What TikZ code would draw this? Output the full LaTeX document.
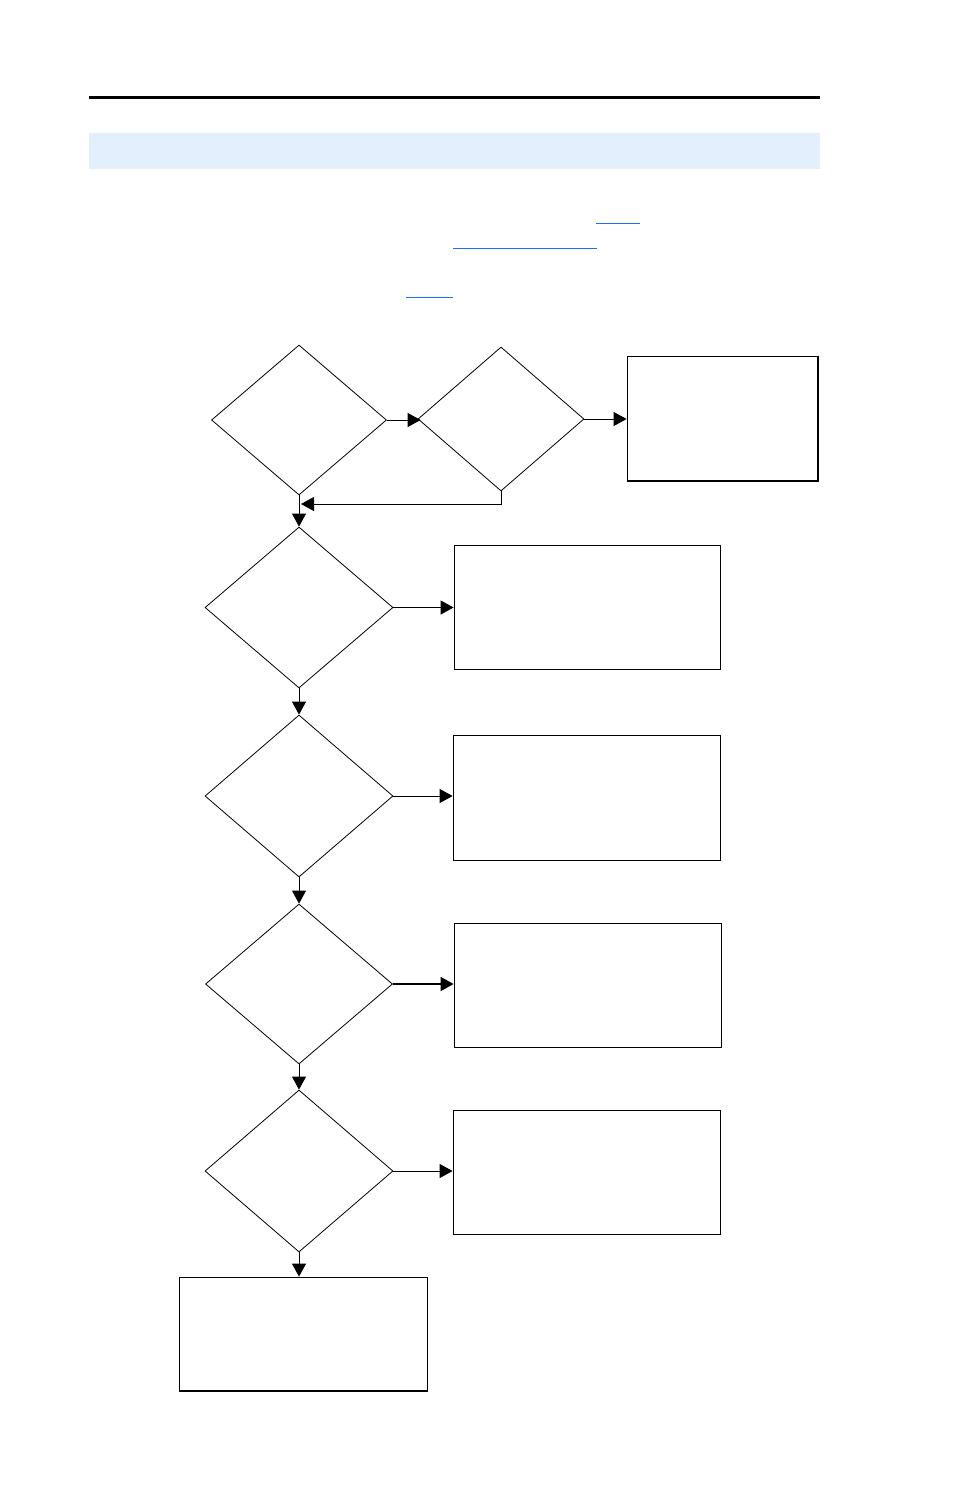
\documentclass[tikz,border=0pt]{standalone}
\usetikzlibrary{shapes.geometric,arrows.meta}
\definecolor{bandblue}{HTML}{E3EFFD}
\definecolor{linkblue}{HTML}{1A6EF5}
\begin{document}
\begin{tikzpicture}[x=1pt,y=-1pt,
  dec/.style={draw,shape=diamond,inner sep=0pt,line width=0.8pt},
  box/.style={draw,rectangle,inner sep=0pt,line width=0.8pt},
  arr/.style={line width=0.8pt,-{Triangle[length=13pt,width=14pt]}},
  link/.style={draw=linkblue,line width=1pt}]
\useasboundingbox (0,0) rectangle (954,1486);
% header
\draw[line width=3pt] (89,97) -- (820,97);
\fill[bandblue] (89,133) rectangle (820,169);
\draw[link] (596,223) -- (640,223);
\draw[link] (453,248) -- (597,248);
\draw[link] (406,297) -- (453,297);
% decisions
\node[dec,minimum width=175pt,minimum height=150pt] (d1) at (299,420) {};
\node[dec,minimum width=166pt,minimum height=144pt] (d2) at (501,419) {};
\node[dec,minimum width=188pt,minimum height=161pt] (d3) at (299,607.5) {};
\node[dec,minimum width=188pt,minimum height=162pt] (d4) at (299,796) {};
\node[dec,minimum width=187pt,minimum height=160pt] (d5) at (299,984) {};
\node[dec,minimum width=188pt,minimum height=162pt] (d6) at (299,1171) {};
% boxes
\node[box,minimum width=191pt,minimum height=125pt] (b0) at (722.5,418.5) {};
\node[box,minimum width=266pt,minimum height=124pt] (b1) at (587,607) {};
\node[box,minimum width=267pt,minimum height=125pt] (b2) at (586.5,797.5) {};
\node[box,minimum width=267pt,minimum height=124pt] (b3) at (587.5,985) {};
\node[box,minimum width=267pt,minimum height=124pt] (b4) at (586.5,1172) {};
\node[box,minimum width=248pt,minimum height=114pt] (b5) at (303,1334) {};
% heavier edges
\draw[line width=2pt] (b0.north east) -- (b0.south east) -- (b0.south west);
\draw[line width=2pt] (b5.south west) -- (b5.south east);
% connectors
\coordinate (ret) at (301,504);
\draw[arr] (d1.east) -- ([xshift=3pt]d1.east -| d2.west);
\draw[arr] (d2.east) -- (d2.east -| b0.west);
\draw[arr] (d2.south) |- (ret);
\draw[arr] (d1.south) -- (d1.south |- d3.north);
\draw[arr] (d3.east) -- (d3.east -| b1.west);
\draw[arr] (d3.south) -- (d3.south |- d4.north);
\draw[arr] (d4.east) -- (d4.east -| b2.west);
\draw[arr] (d4.south) -- (d4.south |- d5.north);
\draw[arr,line width=1.6pt] (d5.east) -- (d5.east -| b3.west);
\draw[arr] (d5.south) -- (d5.south |- d6.north);
\draw[arr] (d6.east) -- (d6.east -| b4.west);
\draw[arr] (d6.south) -- (d6.south |- b5.north);
\end{tikzpicture}
\end{document}
